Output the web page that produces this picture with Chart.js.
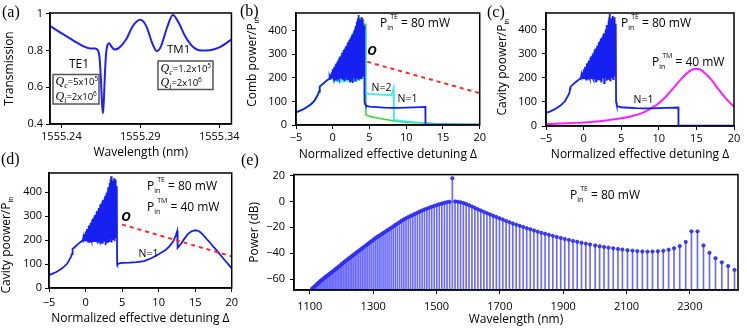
<!DOCTYPE html>
<html>
<head>
<meta charset="utf-8">
<script src="https://cdn.jsdelivr.net/npm/chart.js@4.4.1/dist/chart.umd.min.js"></script>
<style>
  body { margin: 0; background: #fff; width: 747px; height: 328px; position: relative; overflow: hidden; }
  canvas { position: absolute; }
  .lbl { position: absolute; font: 16px "Liberation Serif", "DejaVu Serif", serif; color: #000; line-height: 18px; }
</style>
</head>
<body>
<canvas id="pa" width="242" height="163" style="left:0;top:0"></canvas>
<canvas id="pb" width="246" height="163" style="left:242px;top:0"></canvas>
<canvas id="pc" width="255" height="163" style="left:492px;top:0"></canvas>
<canvas id="pd" width="242" height="165" style="left:0;top:163px"></canvas>
<canvas id="pe" width="505" height="165" style="left:242px;top:163px"></canvas>
<div class="lbl" style="left:2px;top:3px">(a)</div>
<div class="lbl" style="left:240px;top:2px">(b)</div>
<div class="lbl" style="left:487px;top:3px">(c)</div>
<div class="lbl" style="left:1px;top:150px">(d)</div>
<div class="lbl" style="left:241px;top:151px">(e)</div>
<script>
// ---- (a) transmission spectrum
const wlA = [1555.2328, 1555.2400, 1555.2482, 1555.2544, 1555.2585, 1555.2616, 1555.2632, 1555.2642, 1555.2650, 1555.2657,
  1555.2663, 1555.2669, 1555.2676, 1555.2684, 1555.2692, 1555.2702, 1555.2718, 1555.2735, 1555.2765, 1555.2811,
  1555.2852, 1555.2900, 1555.2937, 1555.2978, 1555.3005, 1555.3030, 1555.3071, 1555.3106, 1555.3143, 1555.3184,
  1555.3236, 1555.3287, 1555.3339, 1555.3400, 1555.3477];
const transA = [0.935, 0.895, 0.852, 0.822, 0.812, 0.812, 0.800, 0.760, 0.650, 0.520,
  0.458, 0.530, 0.680, 0.790, 0.830, 0.840, 0.822, 0.806, 0.815, 0.862,
  0.933, 0.968, 0.935, 0.835, 0.797, 0.822, 0.930, 0.994, 0.952, 0.878,
  0.818, 0.800, 0.802, 0.818, 0.860];
const ticksAx = [1555.24, 1555.29, 1555.34];
const ticksAy = [0.4, 0.6, 0.8, 1];

// ---- (b)(c)(d) detuning sweeps
const preDet = [-5, -4.5, -4, -3.5, -3, -2.5, -2, -1.85, -1.8, -1.75, -1.5, -1, -0.5];
const prePow = [54, 60, 67, 76, 87, 102, 130, 142, 155, 163, 170, 184, 196];
const chaosDet = [-0.45, -0.4, -0.35, -0.3, -0.25, -0.2, -0.15, -0.1, -0.05, 0, 0.05, 0.1, 0.15, 0.2, 0.25, 0.3, 0.35, 0.4, 0.45, 0.5,
  0.55, 0.6, 0.65, 0.7, 0.75, 0.8, 0.85, 0.9, 0.95, 1, 1.05, 1.1, 1.15, 1.2, 1.25, 1.3, 1.35, 1.4, 1.45, 1.5,
  1.55, 1.6, 1.65, 1.7, 1.75, 1.8, 1.85, 1.9, 1.95, 2, 2.05, 2.1, 2.15, 2.2, 2.25, 2.3, 2.35, 2.4, 2.45, 2.5,
  2.55, 2.6, 2.65, 2.7, 2.75, 2.8, 2.85, 2.9, 2.95, 3, 3.05, 3.1, 3.15, 3.2, 3.25, 3.3, 3.35, 3.4, 3.45, 3.5,
  3.55, 3.6, 3.65, 3.7, 3.75, 3.8, 3.85, 3.9, 3.95, 4, 4.05, 4.1, 4.15, 4.2, 4.25, 4.3];
const chaosPow = [198, 204, 196, 210, 197, 218, 199, 224, 198, 236, 202, 226, 196, 246, 203, 238, 193, 258, 205, 262,
  199, 248, 194, 272, 206, 266, 198, 284, 201, 290, 196, 262, 209, 298, 197, 306, 192, 284, 204, 318,
  199, 322, 186, 296, 207, 334, 201, 312, 195, 346, 210, 352, 190, 330, 204, 362, 185, 368, 212, 340,
  198, 378, 206, 386, 178, 358, 214, 398, 202, 404, 188, 420, 218, 380, 196, 438, 207, 452, 222, 466,
  190, 430, 215, 448, 200, 412, 226, 458, 195, 440, 220, 452, 208, 425, 230, 418];
const postDetBC = [4.32, 4.4, 4.5, 5, 6, 7, 8, 9, 10, 11, 12, 12.6, 12.62, 14, 16, 18, 20];
const postPowBC = [100, 88, 82, 78, 76, 74, 73, 73, 74, 75, 76, 77, 2, 1.5, 1.2, 1, 1];
const cyanDet = [0, 0.1, 0.2, 0.3, 0.4, 0.5, 0.6, 0.7, 0.8, 0.9, 1, 1.1, 1.2, 1.3, 1.4, 1.5, 1.6, 1.7, 1.8, 1.9,
  2, 2.1, 2.2, 2.3, 2.4, 2.5, 2.6, 2.7, 2.8, 2.9, 3, 3.1, 3.2, 3.3, 3.4, 3.5, 3.6, 3.7, 3.8, 3.9, 4, 4.1, 4.2, 4.3, 4.4,
  4.42, 4.6, 5, 6, 7, 8, 8.28, 8.32, 8.4, 9, 10, 11, 12.6, 14, 16, 20];
const cyanPow = [205, 232, 188, 250, 192, 262, 186, 270, 195, 280, 183, 292, 190, 300, 184, 312, 180, 318, 188, 330,
  182, 345, 192, 352, 178, 365, 190, 380, 185, 392, 196, 410, 188, 425, 200, 445, 192, 430, 205, 440, 198, 425, 210, 415, 400,
  137, 134, 132, 130, 128, 126, 155, 24, 22, 19, 15, 12, 8, 5, 3, 2];
const greenDet = [0, 0.1, 0.2, 0.3, 0.4, 0.5, 0.6, 0.7, 0.8, 0.9, 1, 1.1, 1.2, 1.3, 1.4, 1.5, 1.6, 1.7, 1.8, 1.9,
  2, 2.1, 2.2, 2.3, 2.4, 2.5, 2.6, 2.7, 2.8, 2.9, 3, 3.1, 3.2, 3.3, 3.4, 3.5, 3.6, 3.7, 3.8, 3.9, 4, 4.1, 4.2, 4.3, 4.4, 4.5,
  4.52, 4.7, 5, 6, 7, 8, 9, 10, 11, 12.6, 14, 16, 18, 20];
const greenPow = [215, 195, 240, 200, 255, 196, 265, 205, 282, 198, 290, 202, 305, 195, 310, 206, 325, 200, 335, 210,
  345, 198, 360, 212, 372, 200, 385, 215, 395, 205, 410, 220, 425, 210, 440, 225, 455, 215, 448, 230, 440, 225, 435, 240, 430, 420,
  44, 40, 37, 30, 24, 19, 15, 12, 10, 8, 5, 3.5, 2.5, 2];
const redDetB = [4.7, 20];
const redPowB = [268, 135];
const magDet = [-5, -3, -1, 1, 3, 5, 7, 8, 9, 10, 11, 12, 13, 14, 14.5, 15, 15.5, 16, 17, 18, 19, 20];
const magPow = [8, 10, 13, 17, 23, 32, 46, 57, 74, 95, 124, 160, 196, 226, 235, 238, 235, 224, 192, 150, 112, 80];
const postDetD = [4.32, 4.35, 4.5, 5, 6, 7, 8, 9, 10, 11, 11.5, 12, 12.3, 12.55, 12.6, 13, 13.5, 14, 14.5, 15, 15.5, 16, 17, 18, 19, 20];
const postPowD = [100, 98, 102, 105, 106, 108, 112, 124, 141, 160, 175, 195, 215, 238, 168, 182, 205, 225, 237, 241, 238, 225, 190, 155, 118, 82];
const redDetD = [5, 20];
const redPowD = [265, 132];
const ticksDet = [-5, 0, 5, 10, 15, 20];
const ticksPow = [0, 100, 200, 300, 400];

// ---- (e) comb spectrum
const combWl = [1107.1, 1111.5, 1115.8, 1120.3, 1124.7, 1129.2, 1133.7, 1138.3, 1142.9, 1147.5,
  1152.2, 1156.9, 1161.7, 1166.5, 1171.3, 1176.2, 1181.1, 1186.0, 1191.0, 1196.1,
  1201.1, 1206.3, 1211.4, 1216.7, 1221.9, 1227.2, 1232.5, 1237.9, 1243.4, 1248.9,
  1254.4, 1260.0, 1265.6, 1271.3, 1277.1, 1282.9, 1288.7, 1294.6, 1300.6, 1306.6,
  1312.6, 1318.8, 1324.9, 1331.2, 1337.5, 1343.8, 1350.2, 1356.7, 1363.3, 1369.9,
  1376.5, 1383.3, 1390.1, 1396.9, 1403.8, 1410.9, 1417.9, 1425.1, 1432.3, 1439.6,
  1447.0, 1454.4, 1461.9, 1469.5, 1477.2, 1484.9, 1492.8, 1500.7, 1508.7, 1516.8,
  1525.0, 1533.2, 1541.6, 1550.0,
  1558.6, 1567.2, 1575.9, 1584.8, 1593.7, 1602.7, 1611.9, 1621.1, 1630.4, 1639.9,
  1649.5, 1659.2, 1668.9, 1678.9, 1689.0, 1699.0, 1709.3, 1719.7, 1730.2, 1740.9,
  1751.6, 1762.6, 1773.6, 1784.8, 1796.1, 1807.6, 1819.2, 1831.0, 1842.9, 1855.0,
  1867.3, 1879.7, 1892.3, 1905.0, 1917.9, 1931.0, 1944.3, 1957.8, 1971.4,
  1985, 2001, 2015, 2029, 2043, 2058, 2073, 2087, 2103, 2119, 2134, 2150, 2166, 2182,
  2199, 2216, 2233, 2250, 2268, 2287, 2305, 2324, 2343, 2362, 2381, 2401, 2421, 2441];
const combDb = [-67.5, -66.5, -65.5, -64.5, -63.5, -62.5, -61.5, -60.6, -59.7, -58.8,
  -57.9, -57.0, -56.1, -55.2, -54.3, -53.3, -52.4, -51.5, -50.5, -49.5,
  -48.3, -47.3, -46.3, -45.3, -44.3, -43.3, -42.3, -41.3, -40.3, -39.2,
  -38.2, -37.2, -36.1, -35.1, -34.0, -32.9, -31.8, -30.7, -29.5, -28.5,
  -27.5, -26.5, -25.5, -24.5, -23.5, -22.5, -21.5, -20.4, -19.3, -18.2,
  -17.1, -16.0, -14.8, -13.9, -13.0, -12.1, -11.2, -10.4, -9.5, -8.7,
  -7.8, -7.0, -6.2, -5.5, -4.8, -4.1, -3.4, -2.8, -2.1, -1.6,
  -1.0, -0.5, -0.2, 18,
  0, -0.2, -0.6, -1.2, -2.0, -2.9, -3.9, -4.9, -6.0, -7.0,
  -8.0, -9.0, -10.0, -11.0, -12.0, -13.0, -14.0, -15.0, -16.0, -17.0,
  -17.9, -18.8, -19.7, -20.6, -21.5, -22.4, -23.3, -24.2, -25.0, -25.8,
  -26.6, -27.4, -28.2, -29.0, -29.8, -30.5, -31.2, -31.9, -32.6,
  -33.3, -34.0, -34.6, -35.2, -35.7, -36.2, -36.7, -37.2, -37.7, -38.0, -38.4, -38.7, -38.8, -38.7,
  -38.5, -38.1, -37.3, -36.2, -34.5, -31.3, -23.1, -23.1, -34.0, -39.7, -43.9, -47.1, -49.9, -52.9];
const ticksWl = [1100, 1300, 1500, 1700, 1900, 2100, 2300];
const ticksDb = [-60, -40, -20, 0, 20];
const dbMin = -68.5;

const SANS = '"Open Sans", sans-serif';
const SERIF = '"Liberation Serif", "DejaVu Serif", serif';
Chart.defaults.font.family = SANS;
Chart.defaults.font.size = 11;
Chart.defaults.color = '#000';

const pts = (xs, ys) => xs.map((x, i) => ({ x: x, y: ys[i] }));
const minus = v => String(v).replace('-', '\u2212');

function axis(o) {
  return {
    type: 'linear', min: o.min, max: o.max, offset: false,
    afterBuildTicks: s => { s.ticks = o.ticks.map(v => ({ value: v })); },
    afterFit: s => { if (o.w !== undefined) s.width = o.w; if (o.h !== undefined) s.height = o.h; },
    grid: { drawOnChartArea: false, drawTicks: true, tickLength: 4, color: '#000', lineWidth: 1, offset: false },
    border: { display: true, color: '#000', width: 1.5 },
    ticks: { padding: o.pad, autoSkip: false, maxRotation: 0, callback: o.fmt || minus },
    title: o.title ? { display: true, text: o.title, font: { size: 12 }, padding: o.tpad } : { display: false }
  };
}

function rich(ctx, x, y, parts, align) {
  const fontOf = p => `${p.st || ''} ${p.s || 12}px ${p.f || SANS}`;
  let total = 0;
  parts.forEach(p => { ctx.font = fontOf(p); total += (p.dx || 0) + ctx.measureText(p.t).width * (p.adv ?? 1); });
  let cx = align === 'center' ? x - total / 2 : x;
  parts.forEach(p => {
    ctx.font = fontOf(p);
    cx += p.dx || 0;
    ctx.fillText(p.t, cx, y + (p.dy || 0));
    cx += ctx.measureText(p.t).width * (p.adv ?? 1);
  });
}

// items are placed in page pixels, ox/oy = canvas offset
const decor = (items, ox, oy) => ({
  id: 'decor',
  afterDraw(chart) {
    const ctx = chart.ctx, a = chart.chartArea;
    ctx.save();
    ctx.strokeStyle = '#000';
    ctx.lineWidth = 1.5;
    ctx.strokeRect(a.left, a.top, a.right - a.left, a.bottom - a.top);
    ctx.fillStyle = '#000';
    ctx.textBaseline = 'alphabetic';
    items.forEach(it => {
      if (it.k === 'rect') {
        ctx.strokeStyle = '#555';
        ctx.lineWidth = 1.5;
        ctx.strokeRect(it.x - ox, it.y - oy, it.w, it.h);
      } else if (it.rot) {
        ctx.save();
        ctx.translate(it.x - ox, it.y - oy);
        ctx.rotate(-Math.PI / 2);
        rich(ctx, 0, 0, it.p, 'center');
        ctx.restore();
      } else {
        rich(ctx, it.x - ox, it.y - oy, it.p, it.al);
      }
    });
    ctx.restore();
  }
});

const pin = (sup, rest) => [{ t: 'P' }, { t: 'in', s: 7, dy: 3, adv: 0.5 }, { t: sup, s: 7, dy: -8 }, { t: rest, dx: 3 }];
const q = (sub, rest, exp) => [{ t: 'Q', s: 12, st: 'italic', f: SERIF }, { t: sub, s: 8, st: 'italic', f: SERIF, dy: 3 },
  { t: rest, s: 9.5 }, { t: exp, s: 6.5, dy: -4 }];
const ylab = txt => [{ t: txt }, { t: 'in', s: 7, dy: 3 }];

function lineDs(data, color, width, order, extra) {
  return Object.assign({ data: data, borderColor: color, borderWidth: width, pointRadius: 0, fill: false, tension: 0, order: order }, extra || {});
}

function baseOpts(pad, sx, sy) {
  return {
    responsive: false, animation: false, events: [], devicePixelRatio: 1,
    layout: { padding: pad },
    plugins: { legend: { display: false }, tooltip: { enabled: false } },
    scales: { x: sx, y: sy }
  };
}

const BLUE = 'rgb(22,32,240)';
const detTitle = 'Normalized effective detuning \u0394';

// (a)
new Chart(document.getElementById('pa'), {
  type: 'line',
  data: { datasets: [lineDs(pts(wlA, transA), 'rgb(30,30,255)', 2, 1, { cubicInterpolationMode: 'monotone' })] },
  options: baseOpts({ top: 13, right: 6, left: 0, bottom: 0 },
    axis({ min: 1555.2328, max: 1555.3477, ticks: ticksAx, h: 39, pad: 2, fmt: v => v.toFixed(2), title: 'Wavelength (nm)', tpad: { top: 0, bottom: 2.8 } }),
    axis({ min: 0.4, max: 1.005, ticks: ticksAy, w: 50, pad: 3, fmt: v => (v === 1 ? '1' : v.toFixed(1)), title: 'Transmission', tpad: { top: 2.8, bottom: 0 } })),
  plugins: [decor([
    { p: [{ t: 'TE1', s: 12 }], x: 69, y: 67.5 },
    { k: 'rect', x: 53, y: 74.5, w: 46, h: 29.5 },
    { p: q('c', '=5x10', '5'), x: 55.5, y: 85 },
    { p: q('i', '=2x10', '6'), x: 55.5, y: 99.5 },
    { p: [{ t: 'TM1', s: 11.5 }], x: 167, y: 52.5 },
    { k: 'rect', x: 158, y: 61, w: 55, h: 28.5 },
    { p: q('c', '=1.2x10', '5'), x: 160.5, y: 72 },
    { p: q('i', '=2x10', '6'), x: 160.5, y: 86 }
  ], 0, 0)]
});

// (b)
new Chart(document.getElementById('pb'), {
  type: 'line',
  data: {
    datasets: [
      lineDs(pts(preDet.concat(chaosDet, postDetBC), prePow.concat(chaosPow, postPowBC)), BLUE, 1.8, 1),
      lineDs(pts(preDet.concat(cyanDet), prePow.concat(cyanPow)), 'rgb(60,235,235)', 1.8, 2),
      lineDs(pts(preDet.concat(greenDet), prePow.concat(greenPow)), 'rgb(45,215,45)', 1.5, 3),
      lineDs(pts(redDetB, redPowB), 'rgb(255,40,40)', 2, 0, { borderDash: [4, 4] })
    ]
  },
  options: baseOpts({ top: 13, right: 6, left: 0, bottom: 0 },
    axis({ min: -5, max: 20, ticks: ticksDet, h: 38, pad: 2, title: detTitle, tpad: { top: 0, bottom: 0.8 } }),
    axis({ min: 0, max: 475, ticks: ticksPow, w: 54, pad: 5 })),
  plugins: [decor([
    { rot: true, p: ylab('Comb power/P'), x: 256, y: 62 },
    { p: pin('TE', '= 80 mW'), x: 380, y: 27 },
    { p: [{ t: 'O', s: 13, st: 'italic bold' }], x: 372, y: 54.5, al: 'center' },
    { p: [{ t: 'N=2', s: 10.5 }], x: 381.5, y: 91, al: 'center' },
    { p: [{ t: 'N=1', s: 10.5 }], x: 407.5, y: 102, al: 'center' }
  ], 242, 0)]
});

// (c)
new Chart(document.getElementById('pc'), {
  type: 'line',
  data: {
    datasets: [
      lineDs(pts(preDet.concat(chaosDet, postDetBC), prePow.concat(chaosPow, postPowBC)), BLUE, 1.8, 1),
      lineDs(pts(magDet, magPow), 'rgb(255,30,255)', 2, 2, { cubicInterpolationMode: 'monotone' })
    ]
  },
  options: baseOpts({ top: 13, right: 13, left: 0, bottom: 0 },
    axis({ min: -5, max: 20, ticks: ticksDet, h: 37, pad: 2, title: detTitle, tpad: { top: 0, bottom: 0.8 } }),
    axis({ min: 0, max: 470, ticks: ticksPow, w: 54, pad: 5 })),
  plugins: [decor([
    { rot: true, p: ylab('Cavity poower/P'), x: 506, y: 67 },
    { p: pin('TE', '= 80 mW'), x: 621, y: 27 },
    { p: pin('TM', '= 40 mW'), x: 652, y: 65.5 },
    { p: [{ t: 'N=1', s: 10.5 }], x: 643.5, y: 103, al: 'center' }
  ], 492, 0)]
});

// (d)
new Chart(document.getElementById('pd'), {
  type: 'line',
  data: {
    datasets: [
      lineDs(pts(preDet.concat(chaosDet, postDetD), prePow.concat(chaosPow, postPowD)), BLUE, 1.8, 1),
      lineDs(pts(redDetD, redPowD), 'rgb(255,40,40)', 2, 0, { borderDash: [4, 4] })
    ]
  },
  options: baseOpts({ top: 10, right: 6, left: 0, bottom: 0 },
    axis({ min: -5, max: 20, ticks: ticksDet, h: 40, pad: 4, title: detTitle, tpad: { top: 0, bottom: 1.8 } }),
    axis({ min: 0, max: 480, ticks: ticksPow, w: 49, pad: 3 })),
  plugins: [decor([
    { rot: true, p: ylab('Cavity poower/P'), x: 10, y: 245 },
    { p: pin('TE', '= 80 mW'), x: 147, y: 189.5 },
    { p: pin('TM', '= 40 mW'), x: 147, y: 211 },
    { p: [{ t: 'O', s: 13, st: 'italic bold' }], x: 126, y: 221, al: 'center' },
    { p: [{ t: 'N=1', s: 10.5 }], x: 148.5, y: 257, al: 'center' }
  ], 0, 163)]
});

// (e)
new Chart(document.getElementById('pe'), {
  type: 'bar',
  data: {
    datasets: [
      { type: 'bar', data: combWl.map((w, i) => ({ x: w, y: [dbMin, combDb[i]] })), backgroundColor: 'rgba(70,70,255,0.8)',
        borderWidth: 0, barThickness: 1, order: 2 },
      { type: 'line', data: pts(combWl, combDb), showLine: false, pointRadius: 1.7, pointBackgroundColor: 'rgb(60,60,255)',
        pointBorderColor: 'rgb(25,25,225)', pointBorderWidth: 0.6, order: 1 }
    ]
  },
  options: baseOpts({ top: 8, right: 9, left: 0, bottom: 0 },
    axis({ min: 1050, max: 2452, ticks: ticksWl, h: 38, pad: 6, title: 'Wavelength (nm)', tpad: { top: 0, bottom: 0.8 } }),
    axis({ min: dbMin, max: 20.8, ticks: ticksDb, w: 52, pad: 5, title: 'Power (dB)', tpad: { top: 5.8, bottom: 0 } })),
  plugins: [decor([
    { p: pin('TE', '= 80 mW'), x: 570, y: 198.5 }
  ], 242, 163)]
});
</script>
</body>
</html>
